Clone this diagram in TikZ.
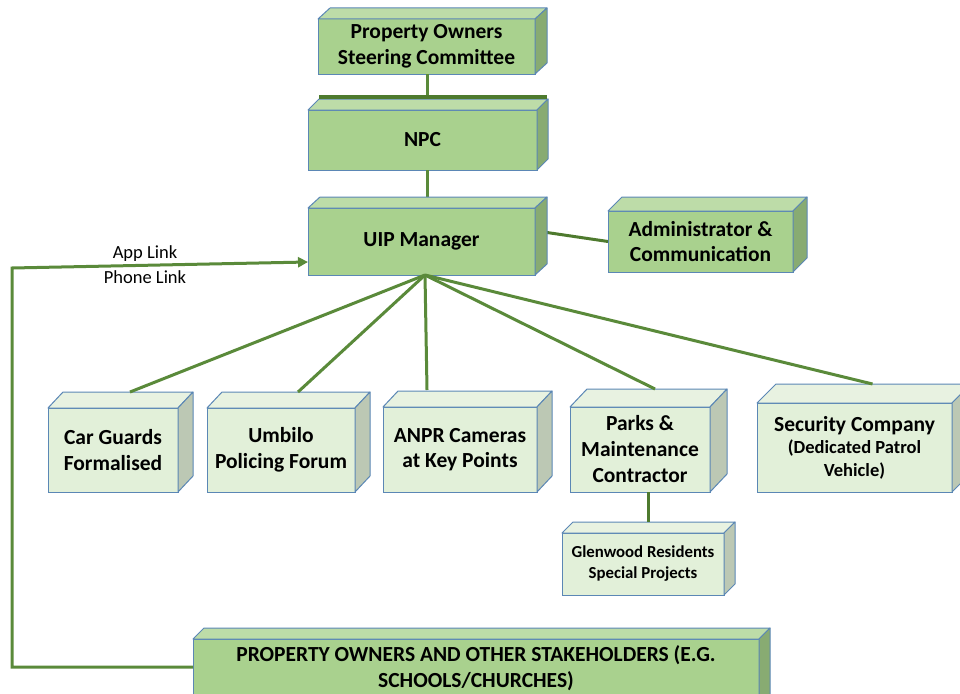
\documentclass[tikz,border=0pt]{standalone}
\usepackage{fontspec}
\setmainfont{Carlito}
\usetikzlibrary{calc,arrows.meta}
\definecolor{gfill}{HTML}{A9D18E}
\definecolor{gtop}{HTML}{BDDCA8}
\definecolor{gside}{HTML}{88AB72}
\definecolor{lfill}{HTML}{E2F0D9}
\definecolor{ltop}{HTML}{E8F2E1}
\definecolor{lside}{HTML}{BCC8B4}
\definecolor{edgec}{HTML}{5B87B5}
\definecolor{conn}{HTML}{5A8A3A}
\definecolor{connd}{HTML}{4E7A2E}
\tikzset{
  mainfont/.style={font=\bfseries\fontsize{21.5}{25.5}\selectfont},
  front/.style={draw=edgec, line width=1pt, inner sep=0pt, outer sep=0pt, align=center, mainfont},
  gbox/.style={front, fill=gfill},
  lbox/.style={front, fill=lfill},
  faceline/.style={draw=edgec, line width=1pt, line join=round},
  link/.style={conn, line width=3pt},
  linklabel/.style={font=\fontsize{18.5}{22}\selectfont},
}
% name, dx, dy, topcolour, sidecolour
\newcommand\cubefaces[5]{%
  \path[faceline, fill=#4] (#1.north west) -- ++(#2,-#3) -- ($(#1.north east)+(#2,-#3)$) -- (#1.north east) -- cycle;
  \path[faceline, fill=#5] (#1.north east) -- ++(#2,-#3) -- ($(#1.south east)+(#2,-#3)$) -- (#1.south east) -- cycle;
}
\begin{document}
\begin{tikzpicture}[x=1pt,y=-1pt]
\useasboundingbox (0,0) rectangle (960,693);
\coordinate (hub) at (425,275);
\coordinate (corner1) at (12,268);
\coordinate (corner2) at (12,667);
% boxes
\node[gbox, minimum width=217, minimum height=55] (poc) at (426.5,46.5) {Property Owners\\Steering Committee};
\node[gbox, minimum width=229, minimum height=60] (npc) at (422.5,140) {NPC};
\node[gbox, minimum width=227, minimum height=67] (uip) at (421.5,241.5) {UIP Manager};
\node[gbox, minimum width=185, minimum height=61] (adm) at (700.5,241.5) {Administrator \&\\Communication};

\draw[link] (poc.south -| 427,0) -- (427,97);
\draw[link] (npc.south -| 427,0) -- (uip.north -| 427,0);
\draw[link, connd] ($(uip.east)+(12,-9)$) -- (adm.west);

\node[lbox, minimum width=130, minimum height=84] (car) at (113,450) {Car Guards\\Formalised};
\node[lbox, minimum width=148, minimum height=84] (umb) at (281,450) {Umbilo\\Policing Forum};
\node[lbox, minimum width=154, minimum height=85] (anpr) at (460,449.5) {ANPR Cameras\\at Key Points};
\node[lbox, minimum width=140, minimum height=85, font=\bfseries\fontsize{21.5}{26}\selectfont] (parks) at (640,449.5) {Parks \&\\Maintenance\\Contractor};
\node[lbox, minimum width=195, minimum height=89, font=\bfseries\fontsize{18.5}{22.5}\selectfont] (sec) at (854.5,447.5) {{\fontsize{21.5}{24}\selectfont Security Company}\\(Dedicated Patrol\\Vehicle)};
\node[lbox, minimum width=162, minimum height=62, font=\bfseries\fontsize{16.8}{21}\selectfont] (glen) at (643,564) {Glenwood Residents\\Special Projects};
\node[gbox, minimum width=566, minimum height=80, anchor=north west] (own) at (193,639) {};
\node[mainfont, align=center] (owntext) at (476,668) {PROPERTY OWNERS AND OTHER STAKEHOLDERS (E.G.\\SCHOOLS/CHURCHES)};

\cubefaces{poc}{12}{11}{gtop}{gside}
\cubefaces{npc}{11}{11}{gtop}{gside}
\cubefaces{uip}{12}{11}{gtop}{gside}
\cubefaces{adm}{14}{14}{gtop}{gside}
\cubefaces{car}{15}{16}{ltop}{lside}
\cubefaces{umb}{15}{16}{ltop}{lside}
\cubefaces{anpr}{15}{16}{ltop}{lside}
\cubefaces{parks}{17}{18}{ltop}{lside}
\cubefaces{sec}{19}{19}{ltop}{lside}
\cubefaces{glen}{11}{11}{ltop}{lside}
\cubefaces{own}{11}{11}{gtop}{gside}

% thick bar over NPC
\draw[connd, line width=4pt] (319,97) -- (547,97);

% fan-out links
\draw[link] (hub) -- ($(car.north)+(17,-16)$);
\draw[link] (hub) -- ($(umb.north)+(17,-16)$);
\draw[link] (hub) -- ($(anpr.north)+(-33,-17)$);
\draw[link] (hub) -- ($(parks.north)+(15,-18)$);
\draw[link] (hub) -- ($(sec.north)+(18,-19)$);
\draw[link, connd] (parks.south -| glen.north) ++(5,0) -- ($(glen.north)+(5,-11)$);

% feedback link
\draw[link, line join=miter, -{Triangle[length=10pt,width=10pt]}] (own.west |- corner2) -- (corner2) -- (corner1) -- (uip.west |- 0,262);
\node[linklabel] (app) at (145,254) {App Link};
\node[linklabel] (phone) at (145,277) {Phone Link};
\end{tikzpicture}
\end{document}
